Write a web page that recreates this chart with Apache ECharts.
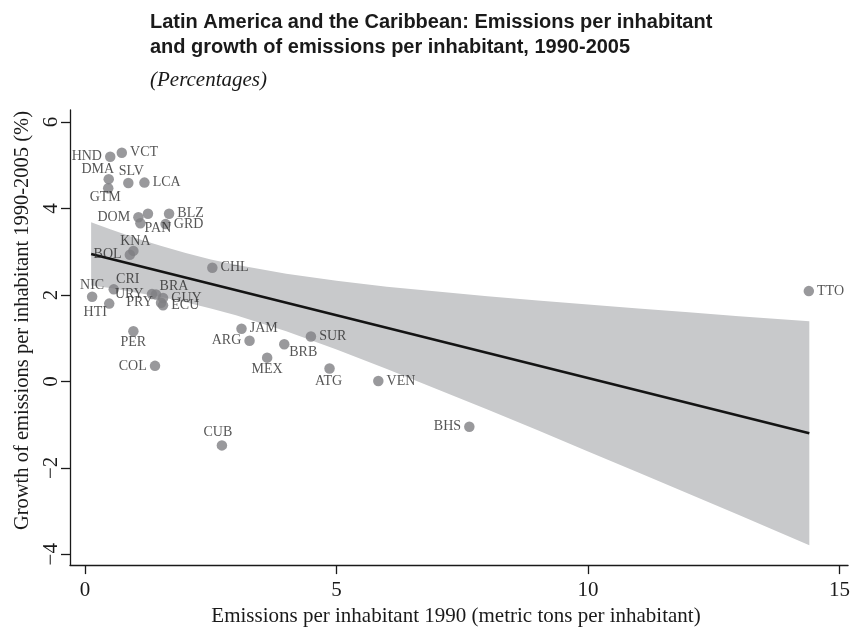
<!DOCTYPE html>
<html>
<head>
<meta charset="utf-8">
<script src="https://cdn.jsdelivr.net/npm/echarts@6/dist/echarts.min.js"></script>
<style>html,body{margin:0;padding:0;background:#fff}#c{width:853px;height:632px}</style>
</head>
<body>
<div id="c"></div>
<script>
// ---- data ----
const countries = ['HND','VCT','DMA','GTM','SLV','LCA','DOM','','PAN','BLZ','GRD','KNA','BOL','CHL','NIC','CRI','HTI','URY','BRA','PRY','GUY','ECU','PER','COL','JAM','ARG','SUR','BRB','MEX','ATG','VEN','CUB','BHS','TTO'];
const emissions1990 = [0.50,0.73,0.47,0.46,0.86,1.18,1.06,1.25,1.10,1.67,1.60,0.96,0.89,2.53,0.14,0.57,0.48,1.33,1.41,1.51,1.55,1.55,0.96,1.39,3.11,3.27,4.49,3.96,3.62,4.86,5.83,2.72,7.64,14.39];
const growth = [5.20,5.29,4.68,4.47,4.59,4.60,3.80,3.88,3.66,3.88,3.64,3.02,2.93,2.63,1.96,2.13,1.80,2.02,2.01,1.82,1.93,1.76,1.16,0.36,1.22,0.94,1.04,0.86,0.55,0.30,0.01,-1.48,-1.05,2.09];

// fitted line (endpoints)
const fitX = [0.12, 14.40];
const fitY = [2.95, -1.20];

// confidence band boundaries
const bandX     = [0.12, 0.5, 1, 1.5, 2, 2.5, 3, 4, 5, 6, 7, 8, 9, 10, 11, 12, 13, 14.40];
const bandUpper = [3.68, 3.52, 3.32, 3.14, 2.97, 2.82, 2.70, 2.49, 2.33, 2.19, 2.08, 1.97, 1.87, 1.78, 1.69, 1.60, 1.51, 1.39];
const bandLower = [2.22, 2.16, 2.06, 1.96, 1.83, 1.69, 1.53, 1.16, 0.74, 0.29, -0.18, -0.65, -1.13, -1.62, -2.11, -2.60, -3.09, -3.79];

const xTicks = [0, 5, 10, 15];
const yTicks = [-4, -2, 0, 2, 4, 6];

// label placement (style): side, or centre offset from the dot
const labelPlace = {
  HND:['left'], VCT:['right'], DMA:['c',-11,-9.5], GTM:['c',-3,9], SLV:['c',3,-11.5], LCA:['right'],
  DOM:['left'], PAN:['c',17.5,5.5], BLZ:['right',0,-3], GRD:['right'], KNA:['c',2,-10], BOL:['left'],
  CHL:['right'], NIC:['c',0,-11.5], CRI:['c',14,-10], HTI:['c',-14,9], URY:['left'], BRA:['c',18,-8],
  PRY:['left'], GUY:['right'], ECU:['right',0,2], PER:['c',0,11], COL:['left'], JAM:['right'], ARG:['left'],
  SUR:['right'], BRB:['c',19,8.5], MEX:['c',0,11.3], ATG:['c',-1,12.7], VEN:['right'], CUB:['c',-4,-12.7],
  BHS:['left'], TTO:['right']
};
const DOT = 10.5;
function labelFor(code){
  if(!code) return {show:false};
  const p = labelPlace[code] || ['right'];
  if(p[0]==='c') return {show:true, position:[DOT/2+p[1], DOT/2+p[2]], align:'center', verticalAlign:'middle'};
  return {show:true, position:p[0], distance:3, offset:[p[1]||0,p[2]||0]};
}

const serif = '"Liberation Serif","DejaVu Serif",serif';
const scatterData = countries.map((c,i)=>({value:[emissions1990[i], growth[i]], name:c, label:labelFor(c)}));

const chart = echarts.init(document.getElementById('c'), null, {renderer:'canvas'});
chart.setOption({
  animation:false,
  backgroundColor:'#fff',
  title:{
    text:'Latin America and the Caribbean: Emissions per inhabitant\nand growth of emissions per inhabitant, 1990-2005',
    subtext:'(Percentages)',
    left:145, top:5, itemGap:8,
    textStyle:{fontFamily:'"Liberation Sans",Arial,sans-serif', fontWeight:'bold', fontSize:20, lineHeight:25, color:'#1a1a1a'},
    subtextStyle:{fontFamily:serif, fontStyle:'italic', fontSize:21, lineHeight:24, color:'#1a1a1a'}
  },
  grid:{left:70, top:110, width:782, height:461, containLabel:false},
  xAxis:{
    type:'value', min:-0.30, max:15.17,
    name:'Emissions per inhabitant 1990 (metric tons per inhabitant)',
    nameLocation:'middle', nameGap:40,
    nameTextStyle:{fontFamily:serif, fontSize:21, color:'#1a1a1a', padding:[0,6,0,0]},
    axisLine:{show:true, onZero:false, lineStyle:{color:'#1a1a1a', width:1.3}},
    axisTick:{show:true, length:9, customValues:xTicks, lineStyle:{color:'#1a1a1a', width:1.3}},
    axisLabel:{customValues:xTicks, margin:15, fontFamily:serif, fontSize:21, color:'#1a1a1a'},
    splitLine:{show:false}
  },
  yAxis:{
    type:'value', min:-4.25, max:6.28,
    name:'Growth of emissions per inhabitant 1990-2005 (%)',
    nameLocation:'middle', nameGap:33,
    nameTextStyle:{fontFamily:serif, fontSize:20.5, color:'#1a1a1a', padding:[0,0,0,34]},
    axisLine:{show:true, onZero:false, lineStyle:{color:'#1a1a1a', width:1.3}},
    axisTick:{show:true, length:9, customValues:yTicks, lineStyle:{color:'#1a1a1a', width:1.3}},
    axisLabel:{customValues:yTicks, rotate:90, margin:8, fontFamily:serif, fontSize:21, color:'#1a1a1a',
      formatter:v=>String(v).replace('-','\u2212')},
    splitLine:{show:false}
  },
  series:[
    {
      type:'custom', silent:true, z:1,
      data:[0],
      renderItem:function(params, api){
        const pts = [];
        for(let i=0;i<bandX.length;i++) pts.push(api.coord([bandX[i], bandUpper[i]]));
        for(let i=bandX.length-1;i>=0;i--) pts.push(api.coord([bandX[i], bandLower[i]]));
        return {type:'polygon', shape:{points:pts}, style:{fill:'#c8c9cb', stroke:null}};
      }
    },
    {
      type:'line', z:2, symbol:'none', silent:true,
      data: fitX.map((x,i)=>[x, fitY[i]]),
      lineStyle:{color:'#141414', width:2.6}
    },
    {
      type:'scatter', z:3, symbol:'circle', symbolSize:DOT,
      itemStyle:{color:'#808083'},
      label:{fontFamily:serif, fontSize:14, color:'#2a2a2a', formatter:'{b}'},
      labelLayout:{hideOverlap:false},
      data:scatterData
    }
  ]
});
</script>
</body>
</html>
